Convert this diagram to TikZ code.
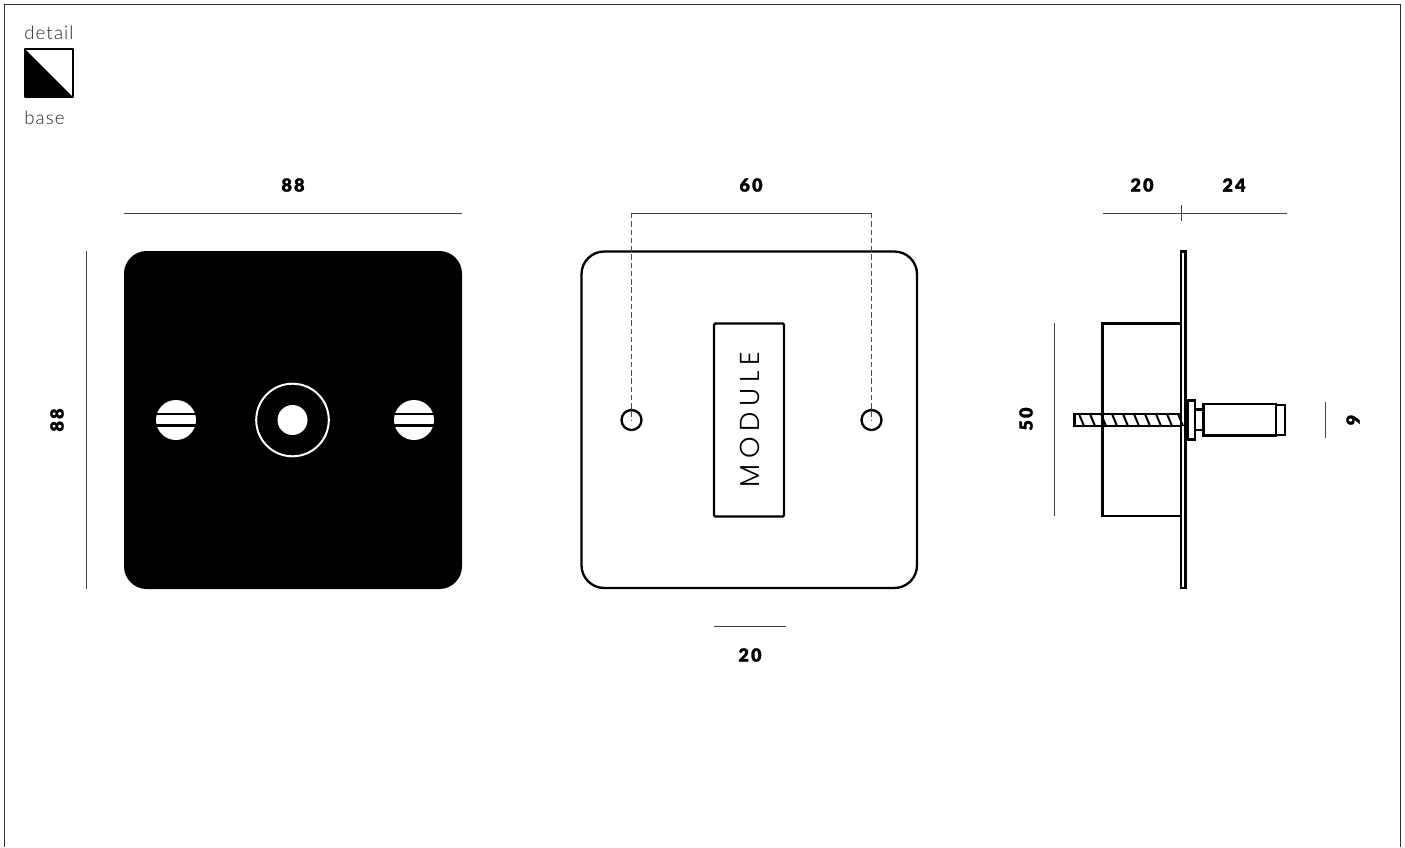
\documentclass[tikz,border=0pt]{standalone}
\usepackage{fontspec}
\setmainfont{Lato}
\newfontfamily\dimfont[LetterSpace=12,FakeBold=1.6]{Lato Black}
\newfontfamily\lightfont[LetterSpace=6]{Lato Light}
\newfontfamily\modfont[LetterSpace=21]{Poppins Light}
\tikzset{
  dimtext/.style={font=\dimfont\fontsize{13.5}{14}\selectfont,text=black,inner sep=0pt},
  labeltext/.style={font=\lightfont\fontsize{14}{16}\selectfont,text=black!85,inner sep=0pt,anchor=base west},
  dimline/.style={draw=black!75,line width=0.7pt},
  outline/.style={draw=black,line width=1.75pt},
  dashline/.style={draw=black!70,line width=0.7pt,dash pattern=on 4.1pt off 2.1pt},
  framel/.style={draw=black!80,line width=0.9pt},
}
\begin{document}
\begin{tikzpicture}[x=0.75pt,y=-0.75pt]
\useasboundingbox (0,0) rectangle (1405,847);
% frame
\draw[framel] (4.5,847) -- (4.5,4.5) -- (1400.5,4.5) -- (1400.5,847);
% legend
\node[labeltext] (ldetail) at (24,39) {detail};
\node[labeltext] (lbase) at (24,124.5) {base};
\fill[black] (25,49) -- (73,97) -- (25,97) -- cycle;
\draw[black,line width=1.75pt,line join=round] (25,49) rectangle (73,97);
% front black plate
\fill[black,rounded corners=17pt] (124,251) rectangle (462,589);
\foreach \cx/\nm in {176/a,414/b}{
  \fill[white] (\cx,420) circle (20);
  \fill[black] (\cx-21,413.2) rectangle (\cx+21,415.2);
  \fill[black] (\cx-21,424.3) rectangle (\cx+21,426.5);
}
\draw[white,line width=1.5pt] (292.5,420) circle (36.3);
\fill[white] (292.5,420) circle (15);
% dims, first view
\coordinate (d1a) at (124,213); \coordinate (d1b) at (462,213);
\draw[dimline] (d1a) -- (d1b);
\node[dimtext] (t88a) at (293,185) {88};
\coordinate (d2a) at (86,251); \coordinate (d2b) at (86,589);
\draw[dimline] (d2a) -- (d2b);
\node[dimtext,rotate=90] (t88b) at (57,420) {88};
% middle view
\draw[outline,rounded corners=17pt] (581.5,251.5) rectangle (917,588);
\draw[outline,rounded corners=1pt] (714,323.5) rectangle (784,516.5);
\node[font=\modfont\fontsize{20.5}{22}\selectfont,rotate=90,text=black,inner sep=0pt] (tmod) at (750,419.5) {MODULE};
\coordinate (h1) at (631.5,420); \coordinate (h2) at (871.5,420);
\draw[dashline] (631.5,213) -- (h1);
\draw[dashline] (871.5,213) -- (h2);
\draw[dimline] (631.5,213) -- (871.5,213);
\draw[outline] (h1) circle (10);
\draw[outline] (h2) circle (10);
\node[dimtext] (t60) at (751,185) {60};
\coordinate (d3a) at (714,626); \coordinate (d3b) at (786,626);
\draw[dimline] (d3a) -- (d3b);
\node[dimtext] (t20a) at (750,655) {20};
% side view
\draw[outline] (1181,251.5) rectangle (1185.5,588);
\draw[outline] (1181,323.5) -- (1102.5,323.5) -- (1102.5,516) -- (1181,516);
% thread
\fill[white] (1074.5,414) rectangle (1180,426);
\foreach \i in {0,...,9}{
  \draw[black,line width=1.5pt] ({1079+\i*11},414) -- ({1084+\i*11},426);
}
\draw[outline] (1180,414) -- (1074.5,414) -- (1074.5,426) -- (1180,426);
\draw[outline] (1102.5,400) -- (1102.5,440);
% collar, neck, body, cap
\draw[outline] (1187.7,400.5) rectangle (1195,439.5);
\draw[outline] (1195,409.5) rectangle (1203.5,430);
\draw[outline,fill=white] (1203.5,404) rectangle (1276,435.5);
\draw[outline] (1276,405) rectangle (1285,435);
% side dims
\coordinate (d4a) at (1103,213); \coordinate (d4b) at (1287,213); \coordinate (d4m) at (1181,213);
\draw[dimline] (d4a) -- (d4b);
\draw[dimline] (1181,205) -- (1181,221);
\node[dimtext] (t20b) at (1142,185) {20};
\node[dimtext] (t24) at (1234,185) {24};
\coordinate (d5a) at (1054,323); \coordinate (d5b) at (1054,516);
\draw[dimline] (d5a) -- (d5b);
\node[dimtext,rotate=90] (t50) at (1026,419) {50};
\coordinate (d6a) at (1325,402); \coordinate (d6b) at (1325,438);
\draw[dimline] (d6a) -- (d6b);
\node[dimtext,rotate=90] (t9) at (1353,420) {9};
\end{tikzpicture}
\end{document}
